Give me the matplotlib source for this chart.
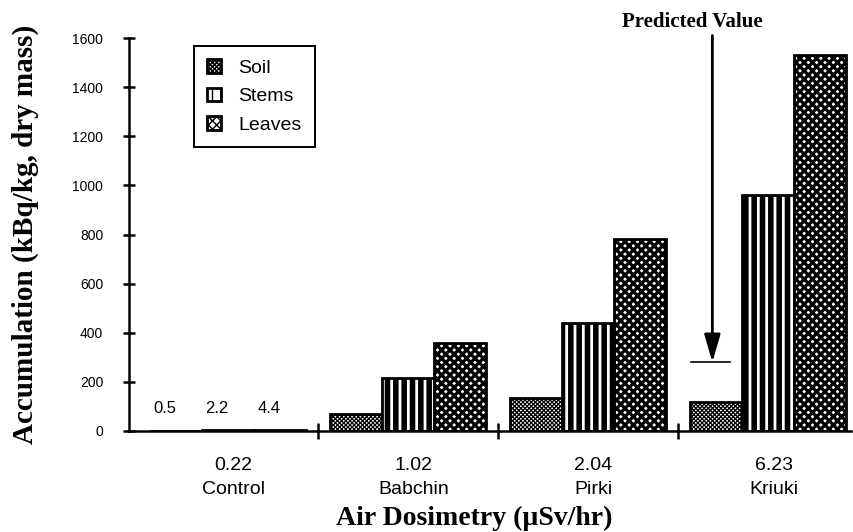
import numpy as np, matplotlib
matplotlib.use("Agg"); import matplotlib.pyplot as plt

sites = ["Control", "Babchin", "Pirki", "Kriuki"]
dose = ["0.22", "1.02", "2.04", "6.23"]
soil = [0.5, 70, 135, 120]
stems = [2.2, 215, 440, 960]
leaves = [4.4, 360, 780, 1530]
control_labels = ["0.5", "2.2", "4.4"]
predicted = 280

SANS = "Liberation Sans"; SERIF = "Liberation Serif"
plt.rcParams.update({"font.family": SANS, "axes.linewidth": 1.8})

fig = plt.figure(figsize=(8.54, 5.32), dpi=100)
ax = fig.add_axes([129/854, 101/532, 722/854, 393/532])
x = np.arange(len(sites)); w = 0.29

def bars(off, vals, hatch, hlw, label):
    with plt.rc_context({"hatch.linewidth": hlw}):
        bc = ax.bar(x + off, vals, w, color="white", edgecolor="black", lw=2,
                    hatch=hatch, label=label)
    for p in bc:
        if hasattr(p, "set_hatch_linewidth"):
            p.set_hatch_linewidth(hlw)
    return bc

bars(-w, soil, "xxxxxxxx", 0.9, "Soil")
bars(0, stems, "||", 4.0, "Stems")
bars(w, leaves, "xxxx", 2.3, "Leaves")

for xi, t in zip([-w, 0, w], control_labels):
    ax.text(xi - 0.06, 62, t, ha="center", va="bottom", fontsize=12)

ax.set_xlim(-0.55, 3.46); ax.set_ylim(0, 1600)
ax.set_yticks(np.arange(0, 1601, 200))
ax.set_xticks([0.5, 1.5, 2.5]); ax.set_xticklabels([])
ax.tick_params(axis="y", direction="inout", length=9, width=1.8, labelsize=10, pad=14)
ax.tick_params(axis="x", direction="inout", length=12, width=1.8)
for s in ["top", "right"]:
    ax.spines[s].set_visible(False)

for xi, d, s in zip(x, dose, sites):
    ax.text(xi + 0.03, -140, d, ha="center", va="center", fontsize=14)
    ax.text(xi + 0.03, -240, s, ha="center", va="center", fontsize=14)

ax.set_ylabel("Accumulation (kBq/kg, dry mass)", family=SERIF, fontweight="bold",
              fontsize=21, labelpad=24)
ax.text(1.37, -355, "Air Dosimetry (\u00b5Sv/hr)", family=SERIF, fontweight="bold",
        fontsize=20, ha="center", va="center")

# predicted value marker
px = 2.69
ax.plot([2.57, 2.79], [predicted, predicted], color="black", lw=1.2)
ax.annotate("", xy=(px, predicted), xytext=(px, 1610),
            arrowprops=dict(arrowstyle="-|>,head_width=0.35,head_length=1.2",
                            color="black", lw=2, mutation_scale=14, shrinkA=0, shrinkB=0),
            annotation_clip=False)
ax.text(2.58, 1665, "Predicted Value", family=SERIF, fontweight="bold",
        fontsize=15, ha="center", va="center")

leg = ax.legend(loc="upper left", bbox_to_anchor=(0.076, 1.005), fontsize=14,
                frameon=True, fancybox=False, edgecolor="black", framealpha=1,
                handlelength=0.7, handleheight=0.7, labelspacing=0.55, borderpad=0.7,
                handletextpad=0.9)
leg.get_frame().set_linewidth(1.4)

fig.savefig("out.png", dpi=100)
